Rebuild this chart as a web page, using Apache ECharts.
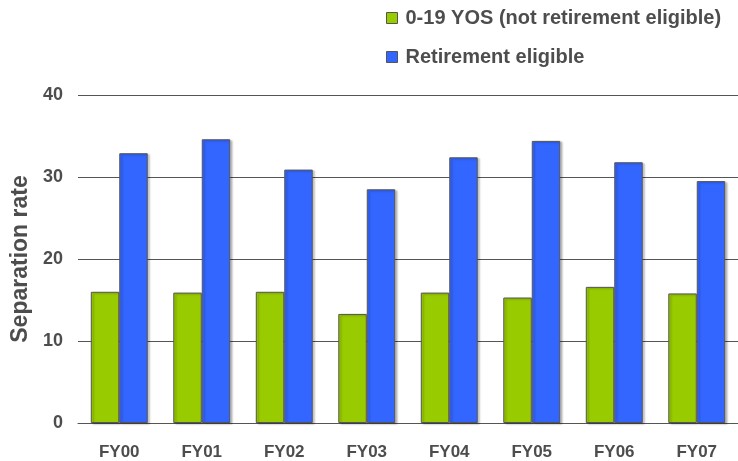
<!DOCTYPE html>
<html>
<head>
<meta charset="utf-8">
<script src="https://cdn.jsdelivr.net/npm/echarts@6/dist/echarts.min.js"></script>
<style>
html,body{margin:0;padding:0;background:#fff;}
#c{width:738px;height:461px;}
</style>
</head>
<body>
<div id="c"></div>
<script>
const categories = ['FY00','FY01','FY02','FY03','FY04','FY05','FY06','FY07'];
const notEligible = [16.0, 15.9, 16.0, 13.3, 15.9, 15.3, 16.6, 15.8];
const eligible = [32.9, 34.6, 30.9, 28.5, 32.4, 34.4, 31.8, 29.5];
const seriesNames = ['0-19 YOS (not retirement eligible)', 'Retirement eligible'];
const yTicks = {min: 0, max: 40, interval: 10};

const font = 'Liberation Sans, Arial, sans-serif';
const txt = '#4d4d4d';
const chart = echarts.init(document.getElementById('c'));
const barStyle = (color) => ({
  color: color,
  borderColor: '#555',
  borderWidth: 1,
  shadowColor: 'rgba(0,0,0,0.25)',
  shadowOffsetX: 2,
  shadowOffsetY: 1,
  shadowBlur: 2
});
chart.setOption({
  animation: false,
  backgroundColor: '#fff',
  grid: {left: 78, right: 0, top: 95, bottom: 38},
  legend: {
    orient: 'vertical',
    left: 386,
    top: 8,
    padding: 0,
    icon: 'rect',
    itemWidth: 11,
    itemHeight: 11,
    itemGap: 19,
    textStyle: {fontFamily: font, fontSize: 20, fontWeight: 'bold', color: txt, padding: [0, 0, 0, 3]},
    data: seriesNames.map(n => ({name: n, itemStyle: {borderColor: '#555', borderWidth: 1, shadowBlur: 0, shadowOffsetX: 0, shadowOffsetY: 0}}))
  },
  xAxis: {
    type: 'category',
    data: categories,
    axisLine: {show: true, lineStyle: {color: '#555', width: 1}},
    axisTick: {show: false},
    axisLabel: {fontFamily: font, fontSize: 17, fontWeight: 'bold', color: txt, margin: 21}
  },
  yAxis: {
    type: 'value',
    min: yTicks.min, max: yTicks.max, interval: yTicks.interval,
    name: 'Separation rate',
    nameLocation: 'middle',
    nameGap: 45,
    nameTextStyle: {fontFamily: font, fontSize: 23, fontWeight: 'bold', color: txt},
    axisLine: {show: false},
    axisTick: {show: false},
    splitLine: {show: true, lineStyle: {color: '#555', width: 1}},
    axisLabel: {fontFamily: font, fontSize: 18, fontWeight: 'bold', color: txt, margin: 15}
  },
  series: [
    {name: seriesNames[0], type: 'bar', data: notEligible, barGap: '0%', barCategoryGap: '31%', itemStyle: barStyle('#99CC00')},
    {name: seriesNames[1], type: 'bar', data: eligible, barGap: '0%', barCategoryGap: '31%', itemStyle: barStyle('#3366FF')}
  ]
});
</script>
</body>
</html>
